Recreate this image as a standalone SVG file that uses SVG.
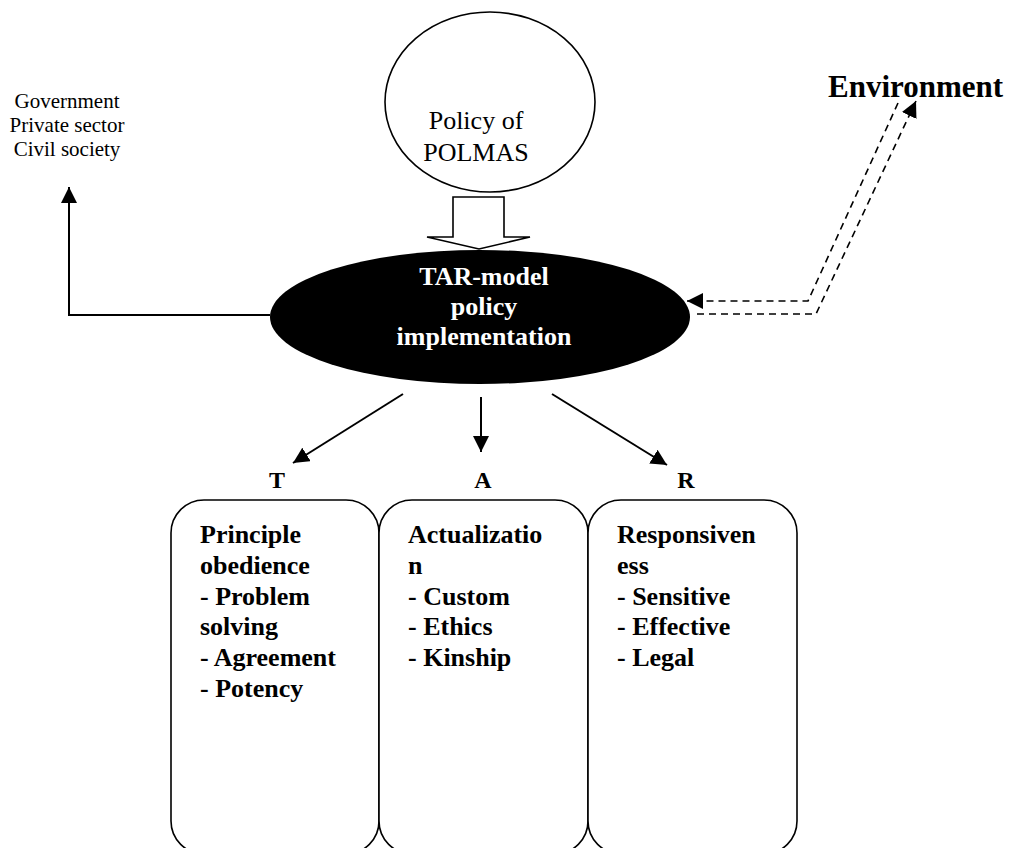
<svg xmlns="http://www.w3.org/2000/svg" width="1011" height="848" viewBox="0 0 1011 848">
<style>
.reg{font-family:"Liberation Serif","Times New Roman",serif;fill:#000}
.bold{font-family:"Liberation Serif","Times New Roman",serif;font-weight:bold;fill:#000}
.wt{fill:#fff}
.ln{fill:none;stroke:#000;stroke-width:2}
.dash{fill:none;stroke:#000;stroke-width:1.6;stroke-dasharray:7 5}
.box{fill:#fff;stroke:#000;stroke-width:1.6}
</style>
<defs>
<marker id="ah" viewBox="0 0 16 16" refX="16" refY="8" markerWidth="16" markerHeight="16" markerUnits="userSpaceOnUse" orient="auto">
<path d="M0,0 L16,8 L0,16 z" fill="#000"/>
</marker>
</defs>
<rect width="1011" height="848" fill="#fff"/>
<g id="stakeholders">
<text class="reg" font-size="21" text-anchor="middle" x="67" y="108">Government</text>
<text class="reg" font-size="21" text-anchor="middle" x="67" y="132">Private sector</text>
<text class="reg" font-size="21" text-anchor="middle" x="67" y="156">Civil society</text>
</g>
<g id="policy">
<ellipse cx="490" cy="102" rx="105" ry="90" fill="#fff" stroke="#000" stroke-width="1.6"/>
<text class="reg" font-size="26" text-anchor="middle" x="476" y="129">Policy of</text>
<text class="reg" font-size="26" text-anchor="middle" x="476" y="161">POLMAS</text>
</g>
<g id="environment">
<text class="bold" font-size="31" x="828" y="97">Environment</text>
</g>
<g id="tar">
<ellipse cx="480" cy="317" rx="210" ry="67" fill="#000"/>
<text class="bold wt" font-size="26" text-anchor="middle" x="484" y="285" style="fill:#fff">TAR-model</text>
<text class="bold wt" font-size="26" text-anchor="middle" x="484" y="315" style="fill:#fff">policy</text>
<text class="bold wt" font-size="26" text-anchor="middle" x="484" y="345" style="fill:#fff">implementation</text>
</g>
<g id="connectors">
<polygon points="453,197 504,197 504,237 530,237 479,249 427,237 453,237" fill="#fff" stroke="#000" stroke-width="1.6"/>
<path class="ln" d="M270,315 H69 V187" marker-end="url(#ah)"/>
<path class="dash" d="M898,103 L808,301 H687" marker-end="url(#ah)"/>
<path class="dash" d="M697,314 H816 L916,101" marker-end="url(#ah)"/>
<path class="ln" d="M403,394 L293,463" marker-end="url(#ah)"/>
<path class="ln" d="M481,397 L481,452" marker-end="url(#ah)"/>
<path class="ln" d="M552,394 L667,465" marker-end="url(#ah)"/>
</g>
<g id="labels">
<text class="bold" font-size="24" text-anchor="middle" x="277" y="488">T</text>
<text class="bold" font-size="24" text-anchor="middle" x="483" y="488">A</text>
<text class="bold" font-size="24" text-anchor="middle" x="686" y="488">R</text>
</g>
<g id="box-t">
<rect class="box" x="171" y="500" width="208" height="354" rx="33" ry="33"/>
<text class="bold" font-size="26" x="200" y="543">Principle<tspan x="200" dy="30.8">obedience</tspan><tspan x="200" dy="30.8">- Problem</tspan><tspan x="200" dy="30.8">solving</tspan><tspan x="200" dy="30.8">- Agreement</tspan><tspan x="200" dy="30.8">- Potency</tspan></text>
</g>
<g id="box-a">
<rect class="box" x="379" y="500" width="209" height="354" rx="33" ry="33"/>
<text class="bold" font-size="26" x="408" y="543">Actualizatio<tspan x="408" dy="30.8">n</tspan><tspan x="408" dy="30.8">- Custom</tspan><tspan x="408" dy="30.8">- Ethics</tspan><tspan x="408" dy="30.8">- Kinship</tspan></text>
</g>
<g id="box-r">
<rect class="box" x="588" y="500" width="209" height="354" rx="33" ry="33"/>
<text class="bold" font-size="26" x="617" y="543">Responsiven<tspan x="617" dy="30.8">ess</tspan><tspan x="617" dy="30.8">- Sensitive</tspan><tspan x="617" dy="30.8">- Effective</tspan><tspan x="617" dy="30.8">- Legal</tspan></text>
</g>
</svg>
